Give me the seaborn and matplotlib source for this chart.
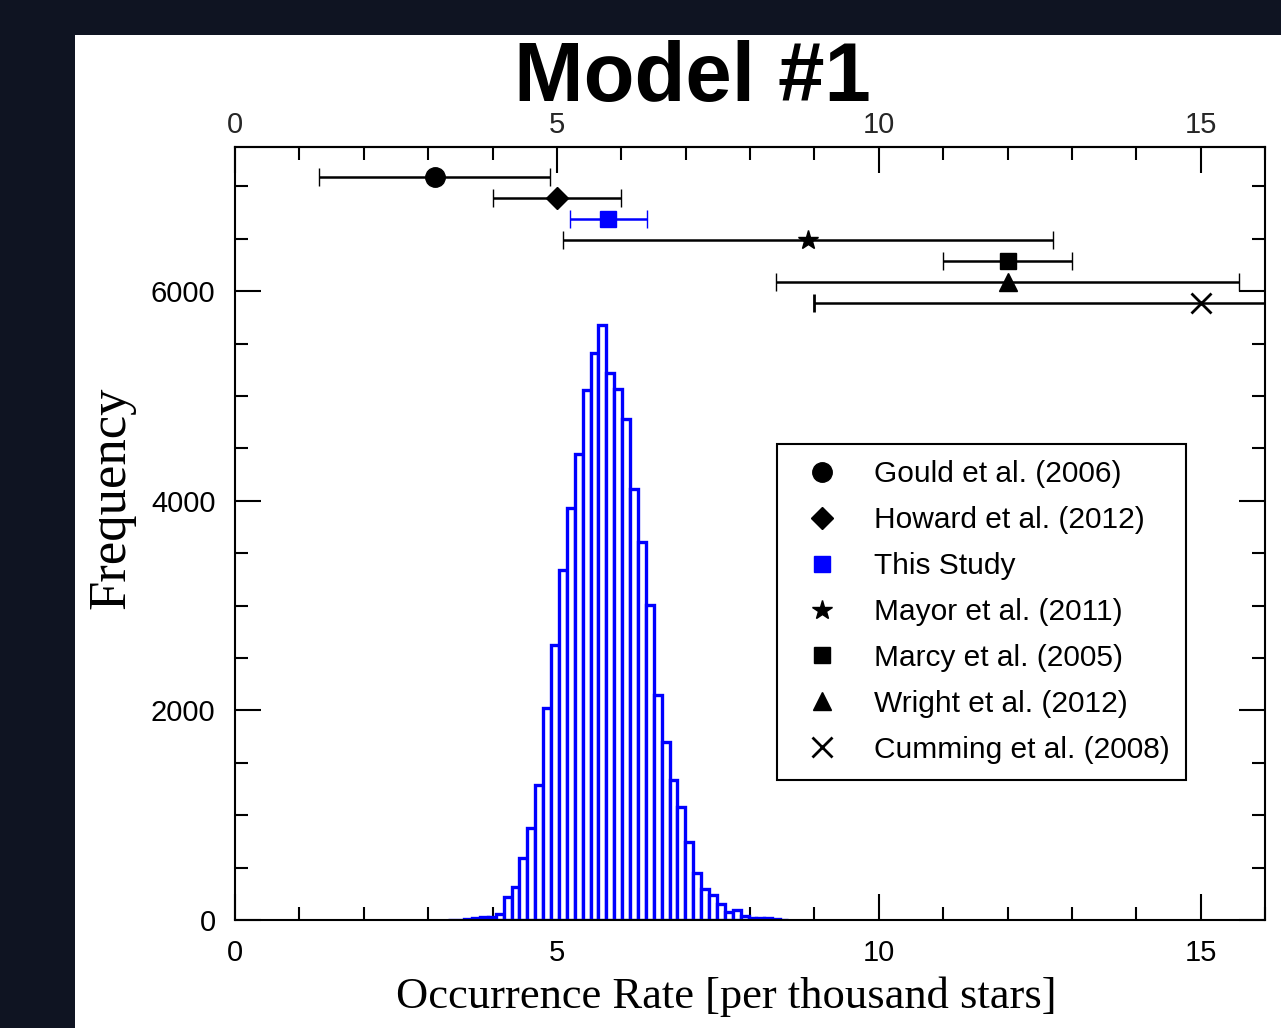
import numpy as np
import pandas as pd
import matplotlib
matplotlib.use("Agg")
import matplotlib.pyplot as plt
from matplotlib.lines import Line2D
from matplotlib.patches import Rectangle
from matplotlib.ticker import MultipleLocator
import seaborn as sns

# ---------------- data ----------------
# histogram of simulated occurrence rates (Model #1)
bin_first_edge = 3.315
bin_width = 0.1227
hist_counts = [2, 4, 7, 16, 25, 32, 57,
               216, 311, 588, 874, 1288, 2025, 2623, 3339, 3927, 4445,
               5056, 5412, 5676, 5215, 5065, 4779, 4111, 3609, 3005, 2146,
               1695, 1335, 1075, 741, 451, 293, 236, 150, 80, 95, 41, 22,
               16, 16, 8, 4]

# literature comparison points
studies = ["Gould et al. (2006)", "Howard et al. (2012)", "This Study",
           "Mayor et al. (2011)", "Marcy et al. (2005)", "Wright et al. (2012)",
           "Cumming et al. (2008)"]
rate_value = [3.1, 5.0, 5.8, 8.9, 12.0, 12.0, 15.0]
rate_low = [1.3, 4.0, 5.2, 5.1, 11.0, 8.4, 9.0]
rate_high = [4.9, 6.0, 6.4, 12.7, 13.0, 15.6, 21.0]
row_height = [7085, 6885, 6685, 6485, 6285, 6085, 5885]
markers = ["o", "D", "s", "*", "s", "^", "x"]
colors = ["black", "black", "blue", "black", "black", "black", "black"]
msizes = [14, 11, 12, 15, 12, 13, 14]

x_ticks = [0, 5, 10, 15]
y_ticks = [0, 2000, 4000, 6000]

# ---------------- style ----------------
sns.set_theme(style="white")
plt.rcParams["font.family"] = ["Liberation Sans", "DejaVu Sans"]

W, H = 1281, 1028
fig = plt.figure(figsize=(W / 100, H / 100), dpi=100)
fig.patch.set_facecolor("#0f1422")
fig.add_artist(Rectangle((75 / W, 0), 1 - 75 / W, (H - 35) / H,
                         transform=fig.transFigure, facecolor="white",
                         edgecolor="none", zorder=-5))

ax = fig.add_axes([235 / W, 1 - 920 / H, 1030 / W, 773 / H])
ax.set_facecolor("white")

edges = [float(e) for e in bin_first_edge + bin_width * np.arange(len(hist_counts) + 1)]
centers = [0.5 * (edges[i] + edges[i + 1]) for i in range(len(hist_counts))]
df = pd.DataFrame({"rate": centers, "count": hist_counts})
sns.histplot(data=df, x="rate", weights="count", bins=edges, ax=ax,
             color="white", edgecolor="blue", linewidth=2.4, alpha=1,
             zorder=2)

for i, name in enumerate(studies):
    xv = rate_value[i]
    err = [[xv - rate_low[i]], [rate_high[i] - xv]]
    ax.errorbar([xv], [row_height[i]], xerr=err, fmt=markers[i],
                color=colors[i], ecolor=colors[i], elinewidth=1.8,
                capsize=6.5, capthick=1.8, markersize=msizes[i],
                markeredgewidth=2 if markers[i] == "x" else 1,
                zorder=4)

ax.set_xlim(0, 16)
ax.set_ylim(0, 7375)

for sp in ax.spines.values():
    sp.set_visible(True)
    sp.set_color("black")
    sp.set_linewidth(1.5)

ax.set_xticks(x_ticks)
ax.set_yticks(y_ticks)
ax.xaxis.set_minor_locator(MultipleLocator(1))
ax.yaxis.set_minor_locator(MultipleLocator(500))
ax.tick_params(axis="both", which="both", direction="in", color="black",
               width=1.5, labelsize=21, labelcolor="black")
ax.tick_params(axis="x", which="both", bottom=True, top=False, pad=14)
ax.tick_params(axis="y", which="both", left=True, right=True, pad=14)
ax.tick_params(which="major", length=19)
ax.tick_params(which="minor", length=9.5)
ax.grid(False)

sec = ax.secondary_xaxis("top")
sec.set_xticks(x_ticks)
sec.xaxis.set_minor_locator(MultipleLocator(1))
sec.tick_params(which="both", direction="in", width=1.5, labelsize=21,
                pad=6, color="black")
sec.tick_params(which="major", length=19)
sec.tick_params(which="minor", length=9.5)
sec.spines["top"].set_linewidth(1.5)

ax.set_xlabel("Occurrence Rate [per thousand stars]",
              fontfamily="Liberation Serif", fontsize=32, color="black")
ax.xaxis.set_label_coords(0.477, -0.073)
ax.set_ylabel("Frequency", fontfamily="Liberation Serif", fontsize=38,
              color="black")
ax.yaxis.set_label_coords(-0.097, 0.546)

fig.text(692 / W, 1 - 101 / H, "Model #1", fontsize=60, fontweight="bold",
         ha="center", va="baseline", color="black")

handles = [Line2D([], [], linestyle="None", marker=markers[i], color=colors[i],
                  markersize=msizes[i],
                  markeredgewidth=2 if markers[i] == "x" else 1)
           for i in range(len(studies))]
leg = ax.legend(handles, studies, loc="upper left",
                bbox_to_anchor=(0.526, 0.616), fontsize=21.5,
                frameon=True, fancybox=False, framealpha=1,
                borderpad=0.55, handlelength=1.95, handletextpad=0.75,
                labelspacing=0.6, borderaxespad=0)
leg.get_frame().set_edgecolor("black")
leg.get_frame().set_linewidth(1.5)
for t in leg.get_texts():
    t.set_color("black")

fig.savefig("out.png", dpi=100, facecolor=fig.get_facecolor())
